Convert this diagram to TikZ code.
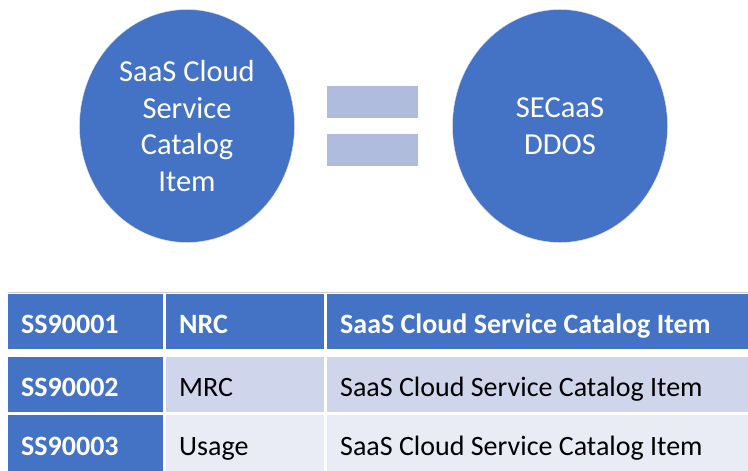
\documentclass[tikz,border=0pt]{standalone}
\usepackage{fontspec}
\setmainfont{Carlito}
\usetikzlibrary{positioning, shapes.geometric}
\definecolor{officeblue}{RGB}{68,114,196}
\definecolor{eqbar}{RGB}{176,188,221}
\definecolor{rowmid}{RGB}{207,213,234}
\definecolor{rowlight}{RGB}{233,235,245}

\begin{document}
\begin{tikzpicture}[
  x=1pt, y=-1pt,
  font=\fontsize{28}{36}\selectfont,
  bubble/.style={ellipse, fill=officeblue, draw=black!12, thin,
                 minimum width=215pt, minimum height=233pt, inner sep=0pt,
                 text=white, align=flush center, font=\fontsize{30.5}{36.5}\selectfont},
  bar/.style={fill=eqbar, minimum width=91pt, minimum height=32pt, inner sep=0pt},
  cell/.style={anchor=north west, inner xsep=13pt, inner ysep=0pt,
               minimum height=55pt, align=flush left, text height=28pt, text depth=4pt},
  idcell/.style={cell, fill=officeblue, text=white, font=\fontsize{28}{36}\selectfont\bfseries,
                 text width=129pt},
  headcell/.style={idcell},
  tablerule/.style={draw=black!20, line width=0.8pt}
]
  \useasboundingbox (0,0) rectangle (748,471);

  % top: item = service
  \node[bubble] (item) at (187,126) {SaaS Cloud\\Service\\Catalog\\Item};
  \node[bubble] (secaas) at (560,126) {SECaaS\\DDOS};
  \node[bar] (eqtop) at (372.5,102) {};
  \node[bar] (eqbot) at (372.5,149.5) {};

  % table
  \draw[tablerule] (8,292) -- (748,292);
  \node[idcell] (id1) at (8,294) {SS90001};
  \node[headcell, text width=132pt] (ch1) at (166,294) {NRC};
  \node[headcell, text width=395pt] (ds1) at (327,294) {SaaS Cloud Service Catalog Item};

  \node[idcell] (id2) at (8,357) {SS90002};
  \node[cell, fill=rowmid, text width=132pt] (ch2) at (166,357) {MRC};
  \node[cell, fill=rowmid, text width=395pt] (ds2) at (327,357) {SaaS Cloud Service Catalog Item};

  \node[idcell, minimum height=56pt] (id3) at (8,415) {SS90003};
  \node[cell, fill=rowlight, text width=132pt, minimum height=56pt] (ch3) at (166,415) {Usage};
  \node[cell, fill=rowlight, text width=395pt, minimum height=56pt] (ds3) at (327,415) {SaaS Cloud Service Catalog Item};
\end{tikzpicture}
\end{document}
